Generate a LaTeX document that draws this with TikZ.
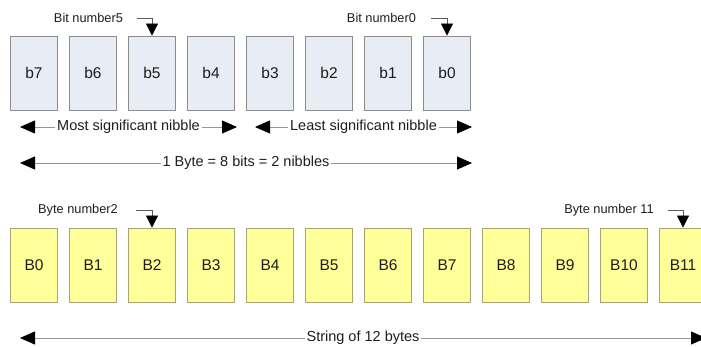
\documentclass[tikz,border=0pt]{standalone}
\usepackage{fontspec}
\setmainfont{Liberation Sans}
\usetikzlibrary{positioning, arrows.meta}

\definecolor{bitfill}{RGB}{232,237,245}
\definecolor{bitline}{RGB}{140,140,140}
\definecolor{bytefill}{RGB}{255,255,153}
\definecolor{byteline}{RGB}{165,165,115}
\definecolor{dimgray}{RGB}{150,150,150}
\definecolor{txt}{RGB}{30,30,30}

\begin{document}
\begin{tikzpicture}[x=1pt, y=-1pt, node distance=59pt, on grid,
  bitbox/.style={draw=bitline, fill=bitfill, line width=0.8pt, minimum width=47pt,
    minimum height=74pt, inner sep=0pt, text=txt, font=\fontsize{15.5}{18}\selectfont},
  bytebox/.style={bitbox, draw=byteline, fill=bytefill},
  tag/.style={inner sep=0pt, text=txt, font=\fontsize{12.8}{15}\selectfont},
  pointer/.style={draw=black!65, line width=0.6pt, -{Triangle[length=12pt,width=12pt,color=black]}},
  dimline/.style={draw=dimgray, line width=0.8pt,
    {Triangle[length=15pt,width=13pt,color=black]}-{Triangle[length=15pt,width=13pt,color=black]}},
  dimtext/.style={fill=white, inner sep=2pt, text=txt, font=\fontsize{14.5}{17}\selectfont}]
  \clip (0,0) rectangle (701,347);

  % one byte
  \node[bitbox] (b7) at (34,73) {b7};
  \node[bitbox] (b6) [right=of b7] {b6};
  \node[bitbox] (b5) [right=of b6] {b5};
  \node[bitbox] (b4) [right=of b5] {b4};
  \node[bitbox] (b3) [right=of b4] {b3};
  \node[bitbox] (b2) [right=of b3] {b2};
  \node[bitbox] (b1) [right=of b2] {b1};
  \node[bitbox] (b0) [right=of b1] {b0};

  \node[tag] (bn5) at (88.5,18) {Bit number5};
  \node[tag] (bn0) at (381.5,18) {Bit number0};
  \draw[pointer] ([xshift=14pt]bn5.east) -| (b5.north);
  \draw[pointer] ([xshift=15pt]bn0.east) -| (b0.north);

  \coordinate (msnL) at (20,127);
  \coordinate (msnR) at (237,127);
  \coordinate (lsnL) at (255,127);
  \coordinate (lsnR) at (472,127);
  \coordinate (byteL) at (20,163);
  \coordinate (byteR) at (472,163);
  \draw[dimline] (msnL) -- node[dimtext] (msn) {Most significant nibble} (msnR);
  \draw[dimline] (lsnL) -- node[dimtext] (lsn) {Least significant nibble} (lsnR);
  \draw[dimline] (byteL) -- node[dimtext] (byte) {1 Byte = 8 bits = 2 nibbles} (byteR);

  % string of bytes
  \node[bytebox] (B0) at (34,265) {B0};
  \node[bytebox] (B1) [right=of B0] {B1};
  \node[bytebox] (B2) [right=of B1] {B2};
  \node[bytebox] (B3) [right=of B2] {B3};
  \node[bytebox] (B4) [right=of B3] {B4};
  \node[bytebox] (B5) [right=of B4] {B5};
  \node[bytebox] (B6) [right=of B5] {B6};
  \node[bytebox] (B7) [right=of B6] {B7};
  \node[bytebox] (B8) [right=of B7] {B8};
  \node[bytebox] (B9) [right=of B8] {B9};
  \node[bytebox] (B10) [right=of B9] {B10};
  \node[bytebox] (B11) [right=of B10] {B11};

  \node[tag] (byn2) at (78,210) {Byte number2};
  \node[tag] (byn11) at (609,210) {Byte number 11};
  \draw[pointer] ([xshift=18pt]byn2.east) -| (B2.north);
  \draw[pointer] ([xshift=14pt]byn11.east) -| (B11.north);

  \coordinate (strL) at (20,338);
  \coordinate (strR) at (706,338);
  \draw[dimline] (strL) -- node[dimtext] (str) {String of 12 bytes} (strR);
\end{tikzpicture}
\end{document}
